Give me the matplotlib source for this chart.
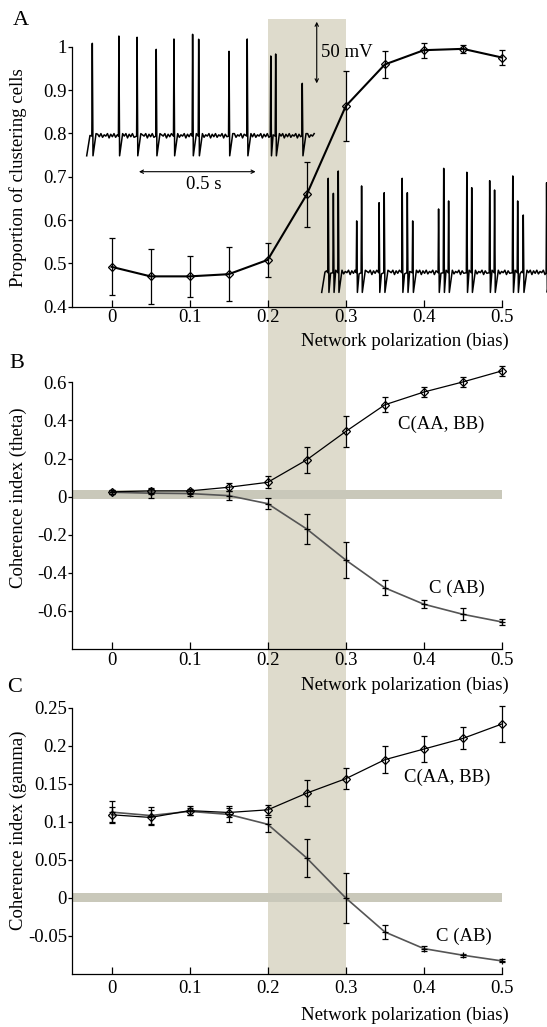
import numpy as np
import matplotlib
matplotlib.use("Agg")
import matplotlib.pyplot as plt
from matplotlib.patches import Rectangle
from matplotlib.transforms import blended_transform_factory

plt.rcParams['font.family'] = ['Liberation Serif', 'DejaVu Serif']
plt.rcParams['axes.unicode_minus'] = False
plt.rcParams['font.size'] = 13.5

###################################################################################
#   DATA
###################################################################################

bias = [0, 0.05, 0.1, 0.15, 0.2, 0.25, 0.3, 0.35, 0.4, 0.45, 0.5]

# Panel A: proportion of clustering cells
prop_cluster = [0.492, 0.470, 0.470, 0.475, 0.508, 0.659, 0.863, 0.959, 0.992, 0.995, 0.975]
prop_err = [0.066, 0.064, 0.048, 0.062, 0.039, 0.075, 0.081, 0.031, 0.017, 0.010, 0.017]

# Panel B: coherence index (theta)
theta_aabb = [0.025, 0.030, 0.030, 0.049, 0.075, 0.193, 0.342, 0.482, 0.549, 0.602, 0.660]
theta_aabb_err = [0.010, 0.015, 0.012, 0.020, 0.032, 0.067, 0.083, 0.040, 0.026, 0.027, 0.028]
theta_ab = [0.023, 0.018, 0.016, 0.005, -0.037, -0.170, -0.333, -0.479, -0.565, -0.618, -0.658]
theta_ab_err = [0.010, 0.023, 0.015, 0.023, 0.028, 0.077, 0.095, 0.040, 0.022, 0.032, 0.015]

# Panel C: coherence index (gamma)
gamma_aabb = [0.1095, 0.106, 0.115, 0.1125, 0.116, 0.138, 0.157, 0.182, 0.196, 0.210, 0.229]
gamma_aabb_err = [0.010, 0.010, 0.006, 0.006, 0.007, 0.0175, 0.014, 0.0175, 0.017, 0.0145, 0.0235]
gamma_ab = [0.113, 0.1085, 0.114, 0.110, 0.097, 0.0526, 0.0, -0.0447, -0.0666, -0.0753, -0.0828]
gamma_ab_err = [0.014, 0.0115, 0.005, 0.0105, 0.010, 0.0245, 0.0335, 0.009, 0.003, 0.002, 0.002]

# Example voltage traces (spike times in s, spike heights above rest in mV)
trace1_t = [0.024, 0.138, 0.216, 0.298, 0.374, 0.454, 0.480, 0.610, 0.688, 0.789, 0.810, 0.924]
trace1_h = [75.8, 81.7, 80.7, 70.9, 79.3, 83.1, 79.1, 69.3, 79.3, 65.5, 67.1, 43.3]
trace1_end = 0.979
trace2_t = [0.028, 0.050, 0.071, 0.150, 0.171, 0.246, 0.268, 0.345, 0.367, 0.390,
            0.501, 0.523, 0.544, 0.622, 0.643, 0.720, 0.741, 0.819, 0.840, 0.864, 0.964]
trace2_h = [77.1, 64.9, 83.0, 42.5, 70.9, 57.3, 65.4, 77.1, 65.4, 42.5,
            52.2, 85.2, 58.7, 82.0, 69.5, 75.2, 67.6, 79.0, 58.7, 47.3, 73.5]
trace2_end = 0.99
trough_mv = -15.5
ripple_mv = [2.0, 0.0, 2.5, -0.5, 1.5, 0.5, 2.5, -1.0]

###################################################################################
#   HELPERS
###################################################################################

W, H = 547.0, 1027.0
X0_PX, XSCALE = 111.5, 781.0     # pixel of bias 0, pixels per bias unit


def build_trace(spike_t, spike_h, t_end):
    t = [0.0, 0.014]
    v = [trough_mv, 1.0]
    last = 0.014
    k = 0
    for i, (ts, h) in enumerate(zip(spike_t, spike_h)):
        tt = last + 0.007
        while tt < ts - 0.006:
            t.append(tt)
            v.append(ripple_mv[k % len(ripple_mv)])
            k += 1
            tt += 0.007
        t += [ts - 0.002, ts, ts + 0.003]
        v += [0.5, h, trough_mv]
        nxt = spike_t[i + 1] if i + 1 < len(spike_t) else t_end
        if nxt - ts > 0.025:
            last = ts + 0.016
            t.append(last)
            v.append(2.5)
        else:
            last = ts + 0.003
    tt = last + 0.007
    while tt < t_end:
        t.append(tt)
        v.append(ripple_mv[k % len(ripple_mv)])
        k += 1
        tt += 0.007
    return np.array(t), np.array(v)


def make_panel(top_px, bottom_px, ylim, yticks, ylabel, ylabel_px, xlabel_px, xpad):
    left = (X0_PX - 0.05 * XSCALE)
    width = 0.55 * XSCALE
    ax = fig.add_axes([left / W, 1 - bottom_px / H, width / W, (bottom_px - top_px) / H])
    ax.patch.set_visible(False)
    ax.set_xlim(-0.05, 0.5)
    ax.set_ylim(ylim)
    for s in ['top', 'right']:
        ax.spines[s].set_visible(False)
    for s in ['left', 'bottom']:
        ax.spines[s].set_linewidth(0.9)
    xt = [0, 0.1, 0.2, 0.3, 0.4, 0.5]
    ax.set_xticks(xt)
    ax.set_xticklabels(['%g' % x for x in xt])
    ax.set_yticks(yticks)
    ax.set_yticklabels(['%g' % y for y in yticks])
    ax.tick_params(axis='x', direction='in', length=5, width=0.9, pad=xpad)
    ax.tick_params(axis='y', direction='out', length=3, width=0.9, pad=1)
    ax.set_ylabel(ylabel, va='center')
    ax.yaxis.set_label_coords((18.5 - left) / width,
                              (bottom_px - ylabel_px) / (bottom_px - top_px))
    ax.set_xlabel('Network polarization (bias)', ha='right', va='center')
    ax.xaxis.set_label_coords((508.5 - left) / width,
                              -(xlabel_px - bottom_px) / (bottom_px - top_px))
    return ax


def zero_band(ax, lo, hi):
    ax.fill_between([-0.05, 0.5], [lo, lo], [hi, hi], color='#c9c8ba', lw=0, zorder=1)


###################################################################################
#   FIGURE
###################################################################################

fig = plt.figure(figsize=(W / 100, H / 100), dpi=100)

axA = make_panel(46.7, 306.7, (0.4, 1.0), [0.4, 0.5, 0.6, 0.7, 0.8, 0.9, 1.0],
                 'Proportion of clustering cells', 178, 341, 2)
axB = make_panel(382.3, 649, (-0.8, 0.6), [-0.6, -0.4, -0.2, 0, 0.2, 0.4, 0.6],
                 'Coherence index (theta)', 497.5, 685, 2)
axC = make_panel(708, 974, (-0.1, 0.25), [-0.05, 0, 0.05, 0.1, 0.15, 0.2, 0.25],
                 'Coherence index (gamma)', 830, 1015, 4)

# transition band spanning all panels
trans = blended_transform_factory(axA.transData, fig.transFigure)
band = Rectangle((0.2, 1 - 974 / H), 0.1, (974 - 18.8) / H, transform=trans,
                 facecolor='#dedbcc', edgecolor='none', zorder=-5)
fig.add_artist(band)

# Panel A
axA.errorbar(bias, prop_cluster, yerr=prop_err, color='black', lw=1.5, marker='D', ms=3.6,
             mfc='none', mec='black', mew=0.9, ecolor='black', elinewidth=0.9,
             capsize=2.5, capthick=0.9, clip_on=False, zorder=3)

# Panel B
zero_band(axB, -0.01, 0.033)
axB.errorbar(bias, theta_ab, yerr=theta_ab_err, color='#555555', lw=1.2, marker='+', ms=4,
             mec='black', mew=0.9, ecolor='black', elinewidth=0.9,
             capsize=2.5, capthick=0.9, clip_on=False, zorder=3)
axB.errorbar(bias, theta_aabb, yerr=theta_aabb_err, color='black', lw=0.9, marker='D', ms=3.6,
             mfc='none', mec='black', mew=0.9, ecolor='black', elinewidth=0.9,
             capsize=2.5, capthick=0.9, clip_on=False, zorder=4)
axB.text(0.367, 0.379, 'C(AA, BB)', ha='left', va='center')
axB.text(0.406, -0.484, 'C (AB)', ha='left', va='center')

# Panel C
zero_band(axC, -0.005, 0.006)
axC.errorbar(bias, gamma_ab, yerr=gamma_ab_err, color='#555555', lw=1.2, marker='+', ms=4,
             mec='black', mew=0.9, ecolor='black', elinewidth=0.9,
             capsize=2.5, capthick=0.9, clip_on=False, zorder=3)
axC.errorbar(bias, gamma_aabb, yerr=gamma_aabb_err, color='black', lw=0.9, marker='D', ms=3.6,
             mfc='none', mec='black', mew=0.9, ecolor='black', elinewidth=0.9,
             capsize=2.5, capthick=0.9, clip_on=False, zorder=4)
axC.text(0.375, 0.159, 'C(AA, BB)', ha='left', va='center')
axC.text(0.4155, -0.051, 'C (AB)', ha='left', va='center')

# Inset voltage traces (1 s = 233.3 px, 1 mV = 1.232 px)
SEC_PX, MV_PX = 233.3, 1.232
ylo, yhi = -20, 95


def trace_axes(left_px, base_px, t_span):
    bottom_px = base_px - ylo * MV_PX
    ax = fig.add_axes([left_px / W, 1 - bottom_px / H, t_span * SEC_PX / W,
                       (yhi - ylo) * MV_PX / H])
    ax.set_xlim(0, t_span)
    ax.set_ylim(ylo, yhi)
    ax.axis('off')
    return ax


ins1 = trace_axes(86.7, 136.7, 1.0)
t1, v1 = build_trace(trace1_t, trace1_h, trace1_end)
ins1.plot(t1, v1, color='black', lw=1.1, clip_on=False)
ins1.annotate('', xy=(0.986, 93.3), xytext=(0.986, 43.3),
              arrowprops=dict(arrowstyle='<->', lw=0.8, color='black', mutation_scale=6,
                              shrinkA=0, shrinkB=0), annotation_clip=False)
ins1.text(1.004, 68.2, '50 mV', ha='left', va='center')
ins1.annotate('', xy=(0.224, -28.4), xytext=(0.724, -28.4),
              arrowprops=dict(arrowstyle='<->', lw=0.8, color='black', mutation_scale=6,
                              shrinkA=0, shrinkB=0), annotation_clip=False)
ins1.text(0.503, -39.2, '0.5 s', ha='center', va='center')

ins2 = trace_axes(321.7, 273.3, 1.0)
t2, v2 = build_trace(trace2_t, trace2_h, trace2_end)
ins2.plot(t2, v2, color='black', lw=1.1, clip_on=False)

# Panel letters
fig.text(20.7 / W, 1 - 20.7 / H, 'A', fontsize=16, ha='center', va='center')
fig.text(16.7 / W, 1 - 363.3 / H, 'B', fontsize=16, ha='center', va='center')
fig.text(15 / W, 1 - 687 / H, 'C', fontsize=16, ha='center', va='center')

fig.savefig('out.png', dpi=100)
